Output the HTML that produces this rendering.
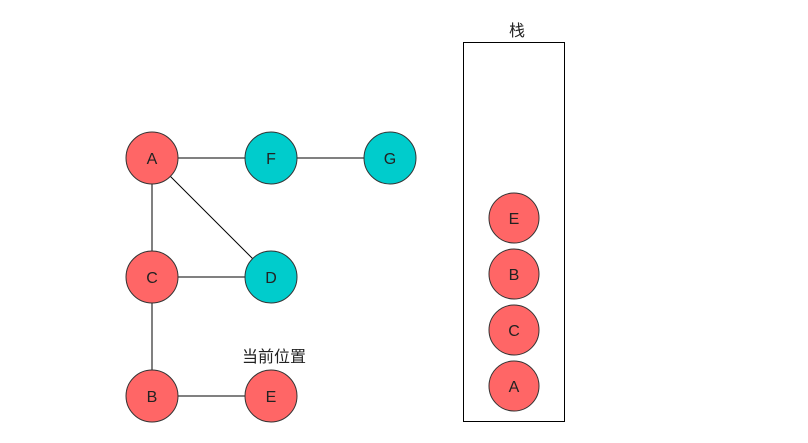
<!DOCTYPE html>
<html><head><meta charset="utf-8"><style>
html,body{margin:0;padding:0;background:#fff;}
svg{display:block;}
text{font-family:"Liberation Sans","Noto Sans CJK SC",sans-serif;}
</style></head><body>
<svg width="808" height="443" viewBox="0 0 808 443" xmlns="http://www.w3.org/2000/svg">
<rect width="808" height="443" fill="#fff"/>
<g stroke="#000" stroke-width="1">
<line x1="152" y1="158" x2="271" y2="158"/>
<line x1="271" y1="158" x2="390" y2="158"/>
<line x1="152" y1="158" x2="152" y2="277"/>
<line x1="152" y1="158" x2="271" y2="277"/>
<line x1="152" y1="277" x2="271" y2="277"/>
<line x1="152" y1="277" x2="152" y2="396"/>
<line x1="152" y1="396" x2="271" y2="396"/>
</g>
<g stroke="#333" stroke-width="1">
<circle cx="152" cy="158" r="26" fill="#FF6666"/>
<circle cx="271" cy="158" r="26" fill="#00CCCC"/>
<circle cx="390" cy="158" r="26" fill="#00CCCC"/>
<circle cx="152" cy="277" r="26" fill="#FF6666"/>
<circle cx="271" cy="277" r="26" fill="#00CCCC"/>
<circle cx="152" cy="396" r="26" fill="#FF6666"/>
<circle cx="271" cy="396" r="26" fill="#FF6666"/>
<rect x="463.5" y="42.5" width="101" height="379" fill="none" stroke="#000"/>
<circle cx="514" cy="218" r="25" fill="#FF6666"/>
<circle cx="514" cy="274" r="25" fill="#FF6666"/>
<circle cx="514" cy="330" r="25" fill="#FF6666"/>
<circle cx="514" cy="386" r="25" fill="#FF6666"/>
</g>
<g font-size="16" text-anchor="middle" fill="#222">
<text x="152" y="164">A</text>
<text x="271" y="164">F</text>
<text x="390" y="164">G</text>
<text x="152" y="283">C</text>
<text x="271" y="283">D</text>
<text x="152" y="402">B</text>
<text x="271" y="402">E</text>
<text x="514" y="224">E</text>
<text x="514" y="280">B</text>
<text x="514" y="336">C</text>
<text x="514" y="392">A</text>
<text x="517" y="36">栈</text>
<text x="274" y="362">当前位置</text>
</g>
</svg>
</body></html>
